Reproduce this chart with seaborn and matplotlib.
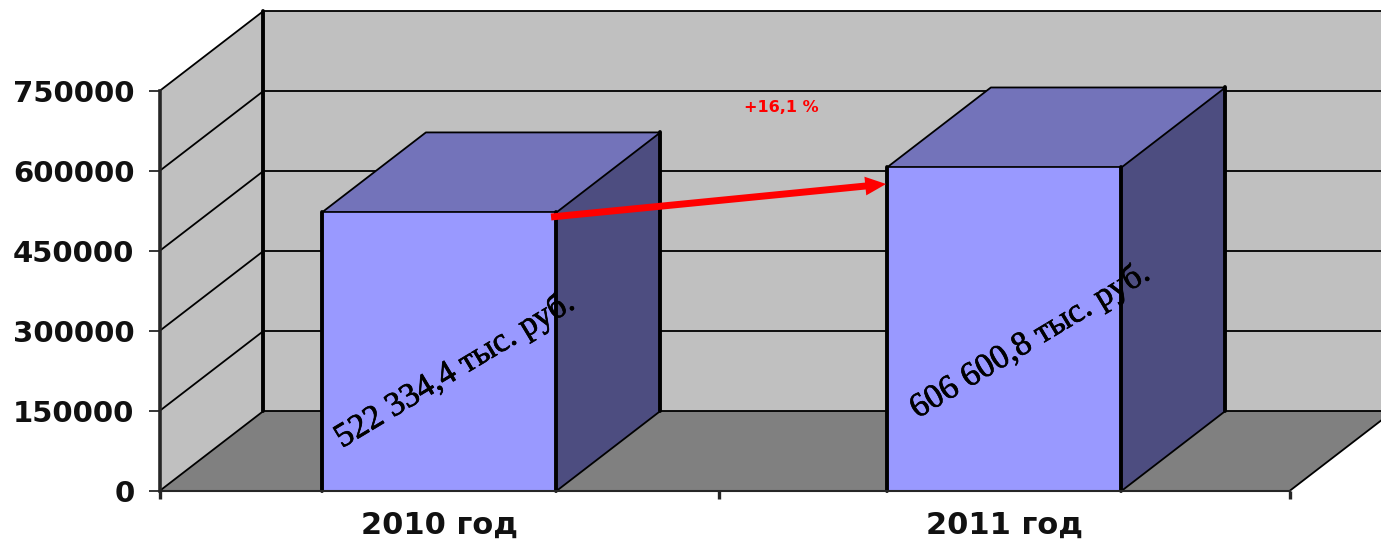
import matplotlib
matplotlib.use("Agg")
import matplotlib.pyplot as plt
import matplotlib.patheffects as pe
from matplotlib.patches import Polygon
import pandas as pd
import seaborn as sns

# data
years = ["2010 год", "2011 год"]
revenue = [522334.4, 606600.8]
value_labels = ["522 334,4 тыс. руб.", "606 600,8 тыс. руб."]
y_ticks = [0, 150000, 300000, 450000, 600000, 750000]
growth_label = "+16,1 %"

# fake 3D depth, in data units
DEPTH_X = 0.184
DEPTH_Y = 150000
X_MIN, X_MAX = -0.495, 1.505
Y_MAX = y_ticks[-1]

sns.set_style("white")
plt.rcParams["font.family"] = ["DejaVu Sans"]

fig = plt.figure(figsize=(13.81, 5.40), dpi=100)
ax = fig.add_axes([159.5 / 1381, 49 / 540, 1130 / 1381, 400 / 540])

df = pd.DataFrame({"year": years, "revenue": revenue})
sns.barplot(data=df, x="year", y="revenue", color="#9999FF", saturation=1,
            width=0.415, edgecolor="black", linewidth=1.2, zorder=6, ax=ax)
ax.set_xlim(X_MIN, X_MAX)
ax.set_ylim(0, Y_MAX)
ax.set_xlabel("")
ax.set_ylabel("")


def face(points, color, zorder):
    ax.add_patch(Polygon(points, closed=True, facecolor=color, edgecolor="none",
                         clip_on=False, zorder=zorder))


# walls and floor
face([(X_MIN, 0), (X_MIN + DEPTH_X, DEPTH_Y), (X_MIN + DEPTH_X, Y_MAX + DEPTH_Y), (X_MIN, Y_MAX)], "#C0C0C0", 1)
face([(X_MIN + DEPTH_X, DEPTH_Y), (X_MAX + DEPTH_X, DEPTH_Y), (X_MAX + DEPTH_X, Y_MAX + DEPTH_Y), (X_MIN + DEPTH_X, Y_MAX + DEPTH_Y)], "#C0C0C0", 1)
face([(X_MIN, 0), (X_MAX, 0), (X_MAX + DEPTH_X, DEPTH_Y), (X_MIN + DEPTH_X, DEPTH_Y)], "#808080", 1)

# gridlines go along the side wall then across the back
for t in y_ticks:
    ax.plot([X_MIN, X_MIN + DEPTH_X, X_MAX + DEPTH_X], [t, t + DEPTH_Y, t + DEPTH_Y],
            color="black", lw=1.3, clip_on=False, zorder=2)
ax.plot([X_MIN + DEPTH_X] * 2, [DEPTH_Y, Y_MAX + DEPTH_Y], color="black", lw=2.8, clip_on=False, zorder=3)
ax.plot([X_MAX, X_MAX + DEPTH_X], [0, DEPTH_Y], color="black", lw=1.3, clip_on=False, zorder=2)

# depth faces of the bars, taken from the bars seaborn drew
for bar in ax.patches[:len(years)]:
    x0 = bar.get_x()
    x1 = x0 + bar.get_width()
    top = bar.get_height()
    top_face = [(x0, top), (x1, top), (x1 + DEPTH_X, top + DEPTH_Y), (x0 + DEPTH_X, top + DEPTH_Y)]
    side_face = [(x1, 0), (x1 + DEPTH_X, DEPTH_Y), (x1 + DEPTH_X, top + DEPTH_Y), (x1, top)]
    face(top_face, "#7373BA", 4)
    face(side_face, "#4D4D80", 4)
    ax.plot([p[0] for p in top_face] + [x0], [p[1] for p in top_face] + [top],
            color="black", lw=1.3, zorder=5, clip_on=False)
    ax.plot([x1, x1 + DEPTH_X], [0, DEPTH_Y], color="black", lw=1.3, zorder=5, clip_on=False)
    ax.plot([x1 + DEPTH_X] * 2, [DEPTH_Y, top + DEPTH_Y], color="black", lw=2.8, zorder=5, clip_on=False)
    ax.plot([x0, x0], [0, top], color="black", lw=2.8, zorder=7, clip_on=False)
    ax.plot([x1, x1], [0, top], color="black", lw=2.8, zorder=7, clip_on=False)

# axes
sns.despine(ax=ax, top=True, right=True)
ax.spines["left"].set_linewidth(2.6)
ax.spines["bottom"].set_linewidth(1.5)
ax.spines["left"].set_zorder(8)
ax.spines["bottom"].set_zorder(8)

ax.set_yticks(y_ticks)
ax.set_yticklabels([str(t) for t in y_ticks], fontsize=21, fontweight="bold", color="#111111")
ax.tick_params(axis="y", which="major", left=True, length=8, width=1.3, pad=10)
ax.set_xticks([0, 1])
ax.set_xticklabels(years, fontsize=22, fontweight="bold", color="#111111")
ax.set_xticks([X_MIN, 0.495, X_MAX], minor=True)
ax.tick_params(axis="x", which="major", bottom=False, length=0, pad=14)
ax.tick_params(axis="x", which="minor", bottom=True, length=6, width=2.4)

# rotated value labels
label_pos = [(0.027, 226000), (1.045, 281000)]
for (lx, ly), txt in zip(label_pos, value_labels):
    ax.text(lx, ly, txt, family="Liberation Serif", fontsize=24.5, rotation=31,
            rotation_mode="anchor", ha="center", va="center", color="black",
            path_effects=[pe.withStroke(linewidth=0.5, foreground="black")], zorder=9)

# growth arrow and label
ax.annotate("", xy=(0.791, 575625), xytext=(0.198, 513750),
            arrowprops=dict(arrowstyle="simple,head_length=1.5,head_width=1.35,tail_width=0.5",
                            mutation_scale=10, color="#FF0000", lw=0, shrinkA=0, shrinkB=0),
            zorder=10, annotation_clip=False)
ax.text(0.606, 720000, growth_label, color="#FF0000", fontsize=11.5, fontweight="bold",
        ha="center", va="center", zorder=10)

fig.savefig("out.png", dpi=100)
